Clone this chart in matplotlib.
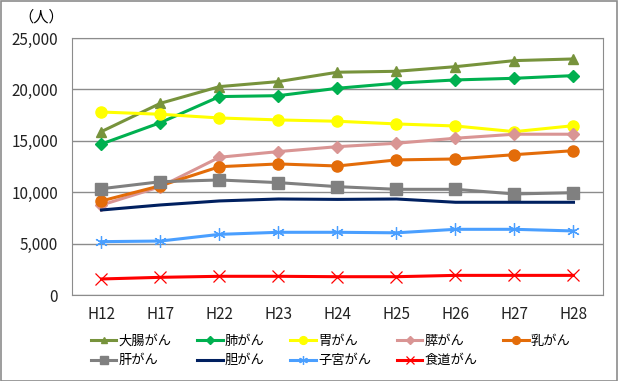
import matplotlib
matplotlib.use("Agg")
import matplotlib.pyplot as plt
from matplotlib.ticker import FuncFormatter

plt.rcParams["font.family"] = ["Noto Sans CJK JP", "DejaVu Sans"]

years = ["H12", "H17", "H22", "H23", "H24", "H25", "H26", "H27", "H28"]

colorectal = [15900, 18650, 20270, 20760, 21670, 21760, 22210, 22800, 22960]
lung = [14690, 16770, 19300, 19390, 20110, 20600, 20920, 21080, 21340]
stomach = [17800, 17580, 17220, 17030, 16900, 16640, 16440, 15890, 16470]
pancreas = [8750, 10540, 13400, 13950, 14430, 14760, 15250, 15640, 15640]
breast = [9150, 10630, 12480, 12750, 12550, 13140, 13230, 13650, 14040]
liver = [10340, 11020, 11190, 10930, 10540, 10280, 10280, 9830, 9950]
gallbladder = [8270, 8760, 9150, 9340, 9300, 9340, 9020, 9020, 9020]
uterus = [5190, 5250, 5900, 6100, 6100, 6050, 6390, 6390, 6230]
esophagus = [1560, 1720, 1820, 1820, 1780, 1780, 1910, 1910, 1910]

series = [
    ("大腸がん", colorectal, "#77933C", "^", 7),
    ("肺がん", lung, "#00B050", "D", 6),
    ("胃がん", stomach, "#FFFF00", "o", 8),
    ("膵がん", pancreas, "#D99594", "D", 6),
    ("乳がん", breast, "#E36C09", "o", 8),
    ("肝がん", liver, "#808080", "s", 8),
    ("胆がん", gallbladder, "#002060", None, 0),
    ("子宮がん", uterus, "#4A9FFF", (6, 2, 0), 9),
    ("食道がん", esophagus, "#FF0000", "x", 8),
]

fig = plt.figure(figsize=(6.18, 3.81), dpi=100)
fig.patches.append(plt.Rectangle((0.001, 0.001), 0.997, 0.996, transform=fig.transFigure,
                                 fill=False, ec="#8c8c8c", lw=1.2))
ax = fig.add_axes([0.1165, 0.2257, 0.8592, 0.6746])

x = range(len(years))
handles = {}
for name, vals, col, mk, ms in series:
    kw = dict(color=col, lw=2.2, label=name)
    if mk is not None:
        kw.update(marker=mk, markersize=ms, markerfacecolor=col, markeredgecolor=col)
        if mk in ("x", (6, 2, 0)):
            kw.update(markeredgewidth=0.9)
    h, = ax.plot(x, vals, **kw)
    handles[name] = h

ax.set_xlim(-0.5, len(years) - 0.5)
ax.set_ylim(0, 25000)
ax.set_yticks(range(0, 25001, 5000))
ax.yaxis.set_major_formatter(FuncFormatter(lambda v, p: f"{int(v):,}"))
ax.set_xticks(list(x))
ax.set_xticklabels(years)
ax.grid(axis="y", color="#8c8c8c", lw=1)
ax.set_axisbelow(True)
for s in ax.spines.values():
    s.set_color("#8c8c8c")
ax.tick_params(length=0, labelsize=11, colors="#222222", pad=8)
ax.tick_params(axis="y", pad=10)

fig.text(0.03, 0.955, "（人）", fontsize=11, ha="left", va="center")

order = ["大腸がん", "肝がん", "肺がん", "胆がん", "胃がん", "子宮がん", "膵がん", "食道がん", "乳がん"]
fig.legend([handles[n] for n in order], order, ncol=5, loc="lower center",
           bbox_to_anchor=(0.535, 0.005), frameon=False, fontsize=9.5,
           handlelength=1.95, columnspacing=1.95, handletextpad=0.15,
           labelspacing=0.5, markerscale=0.7)

fig.savefig("out.png", dpi=100)
